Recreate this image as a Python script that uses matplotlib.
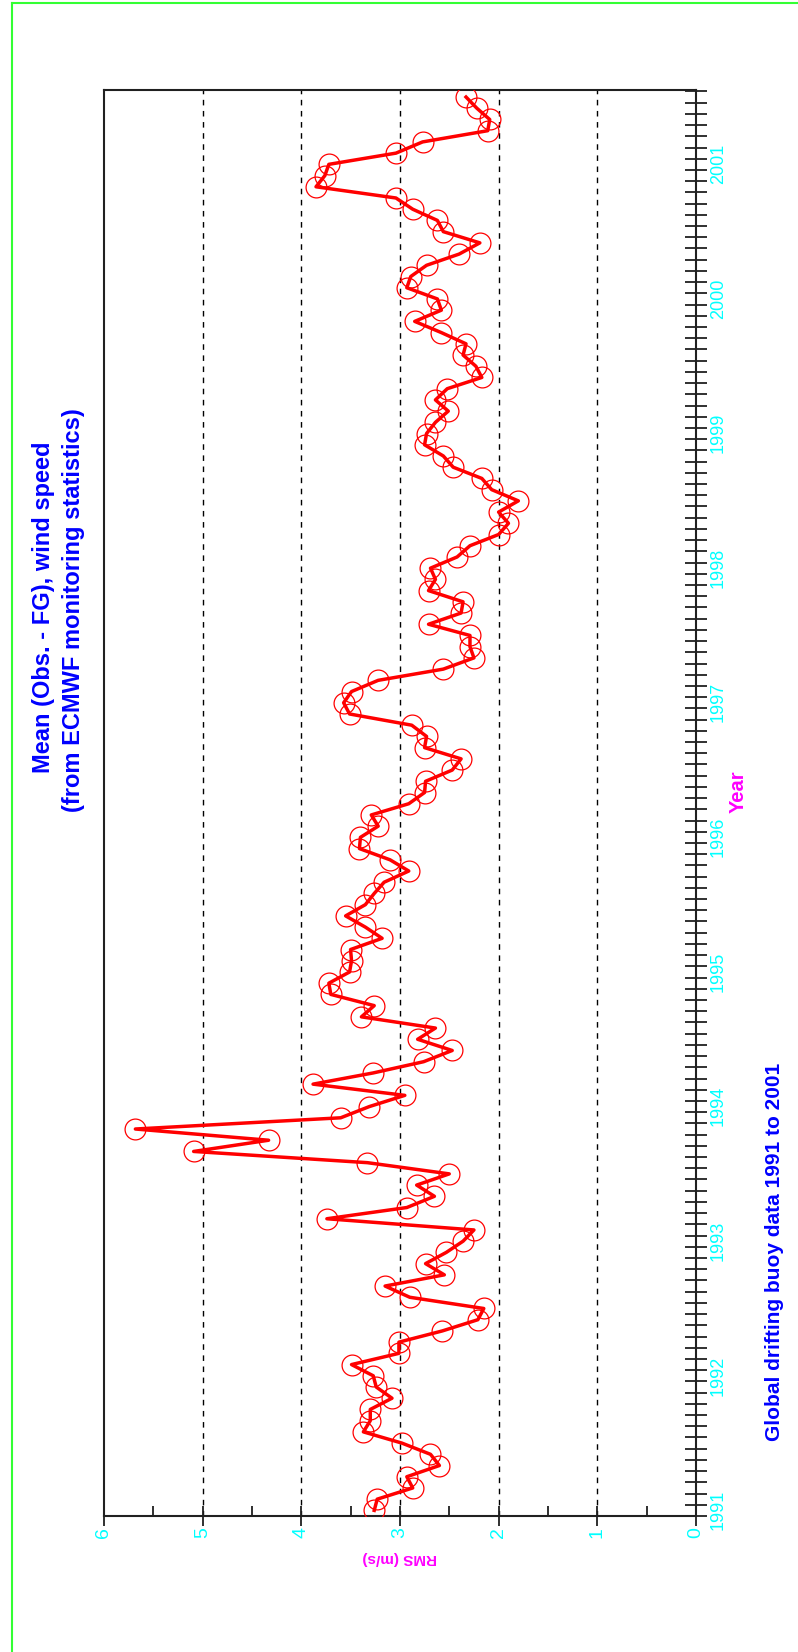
import numpy as np
import matplotlib
matplotlib.use("Agg")
import matplotlib.pyplot as plt
import matplotlib.transforms as mtransforms
from matplotlib.lines import Line2D
from matplotlib.ticker import MultipleLocator, FixedLocator

plt.rcParams['font.family'] = ['Liberation Sans', 'DejaVu Sans']

# monthly mean (obs - FG) wind speed, Jan 1991 .. Jul 2001
rms = [
    3.26, 3.23, 2.87, 2.93, 2.60, 2.69, 2.98, 3.37, 3.30, 3.30, 3.08, 3.24,  # 1991
    3.27, 3.49, 3.01, 3.01, 2.57, 2.21, 2.15, 2.90, 3.15, 2.55, 2.74, 2.53,  # 1992
    2.36, 2.25, 3.74, 2.93, 2.65, 2.83, 2.50, 3.33, 5.09, 4.33, 5.68, 3.60,  # 1993
    3.31, 2.95, 3.88, 3.27, 2.76, 2.47, 2.82, 2.64, 3.39, 3.26, 3.70, 3.72,  # 1994
    3.51, 3.49, 3.50, 3.18, 3.35, 3.55, 3.35, 3.26, 3.16, 2.91, 3.10, 3.41,  # 1995
    3.40, 3.22, 3.29, 2.91, 2.75, 2.74, 2.47, 2.38, 2.75, 2.73, 2.88, 3.51,  # 1996
    3.57, 3.49, 3.22, 2.56, 2.25, 2.29, 2.29, 2.71, 2.38, 2.36, 2.71, 2.64,  # 1997
    2.69, 2.42, 2.29, 2.00, 1.90, 2.00, 1.80, 2.07, 2.17, 2.46, 2.56, 2.75,  # 1998
    2.73, 2.64, 2.51, 2.64, 2.52, 2.17, 2.23, 2.36, 2.33, 2.58, 2.85, 2.58,  # 1999
    2.62, 2.93, 2.89, 2.73, 2.40, 2.19, 2.56, 2.62, 2.87, 3.04, 3.85, 3.76,  # 2000
    3.72, 3.04, 2.77, 2.11, 2.09, 2.22, 2.33,                                # 2001
]
start_year = 1991
years = list(range(1991, 2002))
rms_ticks = [0, 1, 2, 3, 4, 5, 6]

# time axis: middle of each month
t = start_year + (np.arange(len(rms)) + 0.5) / 12.0

W, H = 798, 1652
fig = plt.figure(figsize=(W / 100, H / 100), dpi=100)
fig.patch.set_facecolor('white')

# the whole chart is drawn turned a quarter turn anticlockwise
ax = fig.add_axes([103.8 / W, 1 - 1516 / H, (696 - 103.8) / W, (1516 - 90) / H])
ax.set_xlim(6, 0)
ax.set_ylim(1991, 2001.594)

for v in rms_ticks[1:-1]:
    ax.axvline(v, color='black', lw=1.0, ls=(0, (4, 4)), zorder=1)

ax.plot(rms, t, color='#ff0000', lw=2.5, zorder=3)
ax.plot(rms, t, ls='none', marker='o', ms=15, mfc='none', mec='#ff0000', mew=0.9, zorder=4)

for s in ax.spines.values():
    s.set_color('#202020')
    s.set_linewidth(1.5)

# RMS axis (bottom)
ax.xaxis.set_major_locator(FixedLocator(rms_ticks))
ax.xaxis.set_minor_locator(MultipleLocator(0.5))
ax.tick_params(axis='x', which='major', direction='inout', length=14, width=1.3,
               colors='#202020', labelcolor='#00ffff', labelsize=14, labelrotation=90, pad=1)
ax.tick_params(axis='x', which='minor', direction='in', length=7, width=1.3, colors='#202020')

# Year axis (right)
ax.yaxis.tick_right()
ax.yaxis.set_major_locator(FixedLocator(years))
ax.yaxis.set_minor_locator(MultipleLocator(1 / 12))
ax.tick_params(axis='y', which='both', direction='inout', length=16, width=1.3,
               colors='#202020', labelcolor='#00ffff', labelsize=13, pad=2)
shift_up = mtransforms.ScaledTranslation(0, 6 / 100, fig.dpi_scale_trans)
for lab in ax.get_yticklabels():
    lab.set_rotation(90)
    lab.set_va('center')
    lab.set_transform(lab.get_transform() + shift_up)

# texts
fig.text(44 / W, 1 - 607 / H, 'Mean (Obs. - FG), wind speed', rotation=90,
         ha='center', va='center', color='#0000ff', fontsize=17, fontweight='bold')
fig.text(74 / W, 1 - 610 / H, '(from ECMWF monitoring statistics)', rotation=90,
         ha='center', va='center', color='#0000ff', fontsize=17, fontweight='bold')
fig.text(775 / W, 1 - 1252 / H, 'Global drifting buoy data 1991 to 2001', rotation=90,
         ha='center', va='center', color='#0000ff', fontsize=15, fontweight='bold')
fig.text(738 / W, 1 - 792 / H, 'Year', rotation=90,
         ha='center', va='center', color='#ff00ff', fontsize=14.5, fontweight='bold')
fig.text(400 / W, 1 - 1558 / H, 'RMS (m/s)', rotation=180,
         ha='center', va='center', color='#ff00ff', fontsize=11, fontweight='bold')

# green frame (left and top edges visible)
fig.add_artist(Line2D([12 / W, 12 / W], [0, 1 - 3 / H], color='#33ff33', lw=1.5))
fig.add_artist(Line2D([12 / W, 1], [1 - 3 / H, 1 - 3 / H], color='#33ff33', lw=1.5))

fig.savefig('out.png', dpi=100)
